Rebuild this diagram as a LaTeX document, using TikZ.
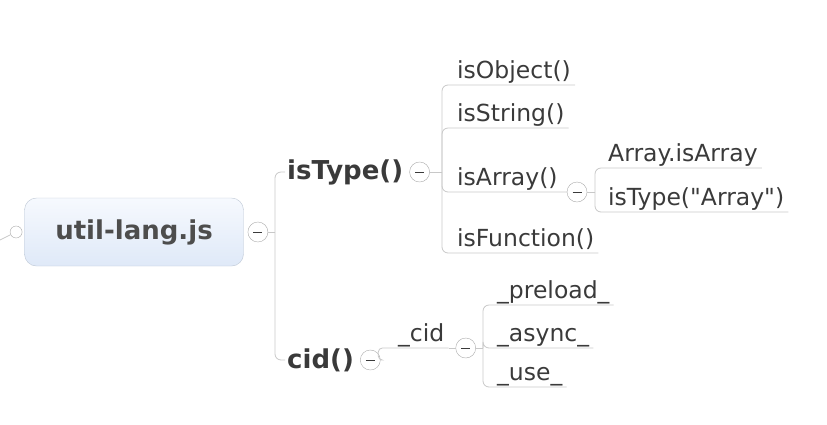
\documentclass[tikz,border=0pt]{standalone}
\usepackage{fontspec}
\setmainfont{DejaVu Sans}
\usepackage{xcolor}
\usepackage{tikz}
\usetikzlibrary{positioning}
\definecolor{linegray}{RGB}{200,200,200}
\definecolor{foldgray}{RGB}{170,170,170}
\definecolor{textgray}{RGB}{58,58,58}
\definecolor{roottext}{RGB}{77,77,77}
\definecolor{roottop}{RGB}{246,249,254}
\definecolor{rootbottom}{RGB}{223,233,248}
\definecolor{rootborder}{RGB}{188,198,212}
\tikzstyle{root} = [rectangle, rounded corners=12pt, minimum width=219pt, minimum height=68pt, draw=rootborder, top color=roottop, bottom color=rootbottom, text=roottext, font=\bfseries\fontsize{26}{26}\selectfont]
\tikzstyle{topic} = [inner xsep=2pt, inner ysep=2pt, anchor=west, text=textgray, font=\bfseries\fontsize{26}{26}\selectfont]
\tikzstyle{leaf} = [inner xsep=4pt, inner ysep=6pt, text depth=0pt, anchor=south west, text=textgray, font=\fontsize{23.5}{23.5}\selectfont]
\tikzstyle{fold} = [circle, draw=foldgray, fill=white, minimum size=20pt, inner sep=0pt, path picture={\draw[textgray, line width=0.8pt] ([xshift=-4.5pt]path picture bounding box.center) -- ([xshift=4.5pt]path picture bounding box.center);}]
\tikzstyle{socket} = [circle, draw=foldgray, fill=white, minimum size=12pt, inner sep=0pt]
\tikzstyle{branch} = [draw=linegray, line width=0.8pt, rounded corners=6pt]

\begin{document}
\begin{tikzpicture}[x=1pt, y=-1pt]
                        \useasboundingbox (0,0) rectangle (827,424);

                        % central topic
                        \node (1) [root] at (134,232) {util-lang.js};
                        \node (2) [fold, right=4pt of 1] {};
                        \node (3) [socket, left=2pt of 1] {};
                        \coordinate (4) at (0,240);
                        \coordinate (5) at (275,232);
                        \draw [branch] (4) -- (3);
                        \draw [branch] (2) -- (5);

                        % main topics
                        \node (6) [topic] at (285,172) {isType()};
                        \node (7) [fold, right=4pt of 6] {};
                        \node (8) [topic] at (285,360) {cid()};
                        \node (9) [fold, right=4pt of 8] {};
                        \draw [branch] (5) |- (6.west);
                        \draw [branch] (5) |- (8.west);

                        % isType()
                        \coordinate (10) at (442,172);
                        \node (11) [leaf] at (453,85) {isObject()};
                        \node (12) [leaf] at (453,128) {isString()};
                        \node (13) [leaf] at (453,192) {isArray()};
                        \node (14) [leaf] at (453,253) {isFunction()};
                        \node (15) [fold, right=5pt of 13.south east] {};
                        \draw [branch] (7) -- (10);
                        \draw [branch] (10) |- (11.south east);
                        \draw [branch] (10) |- (12.south east);
                        \draw [branch] (10) |- (15.west);
                        \draw [branch] (10) |- (14.south east);

                        % isArray()
                        \coordinate (16) at (595,192);
                        \node (17) [leaf] at (604,168) {Array.isArray};
                        \node (18) [leaf] at (604,212) {isType(\textquotedbl Array\textquotedbl)};
                        \draw [branch] (15) -- (16);
                        \draw [branch] (16) |- (17.south east);
                        \draw [branch] (16) |- (18.south east);

                        % cid()
                        \node (19) [leaf] at (394,348) {\_cid};
                        \node (20) [fold, right=7pt of 19.south east] {};
                        \draw [branch, rounded corners=4pt] (9) -- ++(8,0) |- (19.south east);
                        \draw [branch] (19.south east) -- (20);

                        \coordinate (21) at (483,348);
                        \node (22) [leaf] at (493,305) {\_preload\_};
                        \node (23) [leaf] at (493,348) {\_async\_};
                        \node (24) [leaf] at (493,387) {\_use\_};
                        \draw [branch] (20) -- (21);
                        \draw [branch] (21) |- (22.south east);
                        \draw [branch] (21) |- (23.south east);
                        \draw [branch] (21) |- (24.south east);
                    \end{tikzpicture}
\end{document}
